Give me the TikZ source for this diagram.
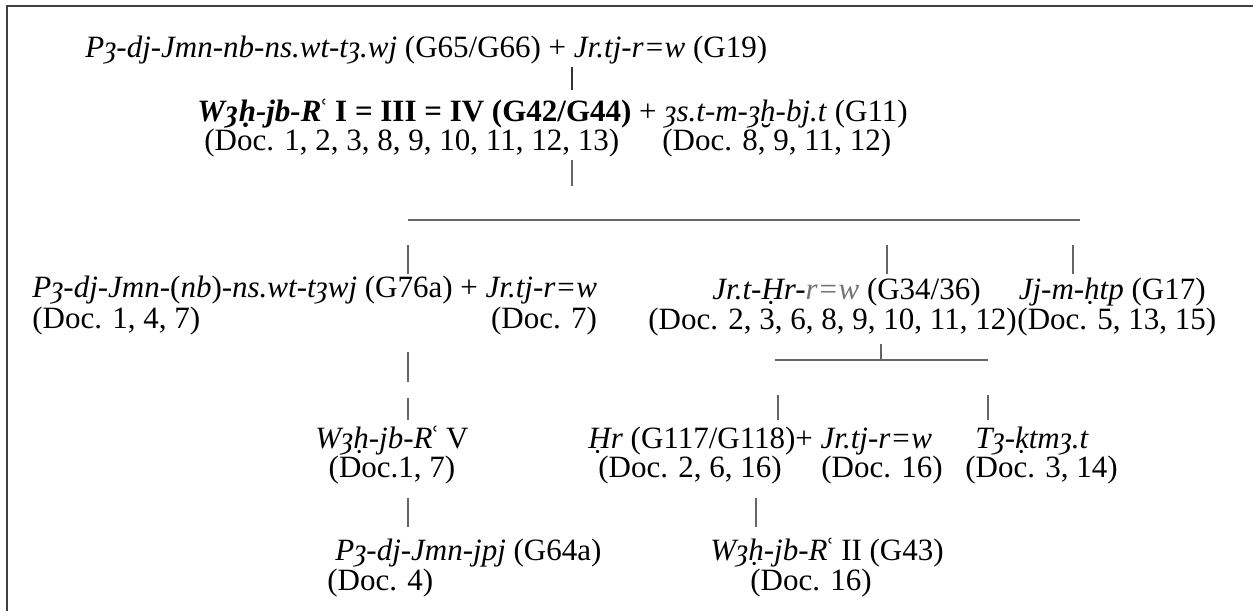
\documentclass[tikz,border=0pt]{standalone}
\usepackage{fontspec}
\setmainfont{Liberation Serif}
\usetikzlibrary{positioning}

\newcommand{\ain}{\kern-0.14em ʿ}

\begin{document}
\begin{tikzpicture}[x=0.5pt,y=-0.5pt,
    lbl/.style={inner sep=0pt, anchor=base west, font=\fontsize{15.5}{17}\selectfont},
    link/.style={draw=black!60, line width=0.6pt},
    frame/.style={draw=black!75, line width=1.1pt}
]
\useasboundingbox (0,0) rectangle (1253,611);
\draw[frame] (7,611) -- (7,6) -- (1253,6);

% top of the tree
\node[lbl] (top) at (85,57) {\textit{Pȝ-dj-Jmn-nb-ns.wt-tȝ.wj} (G65/G66) + \textit{Jr.tj-r=w} (G19)};
\node[lbl] (main) at (197,121) {\textbf{\textit{Wȝḥ-jb-R\ain} I = III = IV (G42/G44)} + \textit{ȝs.t-m-ȝḫ-bj.t} (G11)};
\node[lbl] (mainDoc) at (204,150) {(Doc. 1, 2, 3, 8, 9, 10, 11, 12, 13)};
\node[lbl] (isisDoc) at (662,150) {(Doc. 8, 9, 11, 12)};

% second row
\node[lbl] (ltA) at (32,297) {\textit{Pȝ-dj-Jmn-}(\textit{nb})\textit{-ns.wt-tȝwj} (G76a) + \textit{Jr.tj-r=w}};
\node[lbl] (ltDoc) at (32,328) {(Doc. 1, 4, 7)};
\node[lbl, anchor=base east] (ltDocB) at ([yshift=-15.5pt]ltA.base east) {(Doc. 7)};
\node[lbl] (midA) at (712,299) {\textit{Jr.t-Ḥr-}\textcolor{black!55}{\textit{r=w}} (G34/36)};
\node[lbl] (midDoc) at (648,329) {(Doc. 2, 3, 6, 8, 9, 10, 11, 12)};
\node[lbl, anchor=base east] (rtA) at (1206,299) {\textit{Jj-m-ḥtp} (G17)};
\node[lbl] (rtDoc) at (midDoc.base east) {(Doc. 5, 13, 15)};

% third row
\node[lbl, anchor=base] (wahV) at (392,448) {\textit{Wȝḥ-jb-R\ain} V};
\node[lbl, anchor=base] (wahVDoc) at (392,477) {(Doc.1, 7)};
\node[lbl] (hor) at (588,448) {\textit{Ḥr} (G117/G118)+ \textit{Jr.tj-r=w}};
\node[lbl] (horDoc) at (598,477) {(Doc. 2, 6, 16)};
\node[lbl] (horDocB) at (821,477) {(Doc. 16)};
\node[lbl] (tak) at (975,448) {\textit{Tȝ-ḳtmȝ.t}};
\node[lbl] (takDoc) at (965,477) {(Doc. 3, 14)};

% fourth row
\node[lbl] (pdjB) at (335,560) {\textit{Pȝ-dj-Jmn-jpj} (G64a)};
\node[lbl] (pdjBDoc) at (327,590) {(Doc. 4)};
\node[lbl] (wahII) at (710,560) {\textit{Wȝḥ-jb-R\ain} II (G43)};
\node[lbl] (wahIIDoc) at (750,590) {(Doc. 16)};

% junctions
\coordinate (jA) at (408,220);
\coordinate (jM) at (572,220);
\coordinate (jB) at (887,220);
\coordinate (jC) at (1073,220);
\coordinate (jE) at (1080,220);
\coordinate (kM) at (881,360);
\coordinate (kA) at (778,360);
\coordinate (kB) at (988,360);
\coordinate (kL) at (775,360);
\coordinate (hB) at (756,360);

% stems
\draw[link, line width=0.8pt, draw=black!80] (top.base -| jM) ++(0,10) -- ++(0,23);
\draw[link] (mainDoc.base -| jM) ++(0,10) -- ++(0,26);
\draw[link] (jA) -- (jE);
\draw[link] (jA) ++(0,25) -- ++(0,29);
\draw[link] (jB) ++(0,25) -- ++(0,29);
\draw[link] (jC) ++(0,25) -- ++(0,29);
\draw[link] (jA) ++(0,132) -- ++(0,30) ++(0,16) -- ++(0,22);
\draw[link] (kM) -- ++(0,-16);
\draw[link] (kL) -- (kB);
\draw[link] (kA) ++(0,35) -- ++(0,25);
\draw[link] (kB) ++(0,35) -- ++(0,25);
\draw[link] (wahVDoc.base -| jA) ++(0,21) -- ++(0,29);
\draw[link] (horDoc.base -| hB) ++(0,21) -- ++(0,29);
\end{tikzpicture}
\end{document}
